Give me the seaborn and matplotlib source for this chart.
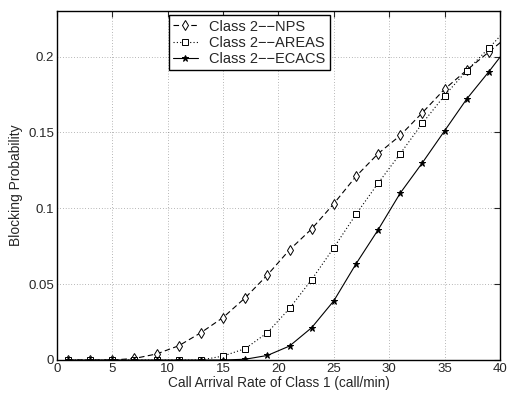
import numpy as np
import pandas as pd
import seaborn as sns
import matplotlib
matplotlib.use('Agg')
import matplotlib.pyplot as plt

# call arrival rate of class 1 (call/min); last point lies past the axis edge
rate = [1, 3, 5, 7, 9, 11, 13, 15, 17, 19, 21, 23, 25, 27, 29, 31, 33, 35, 37, 39, 41]
nps = [0, 0, 0, 0.001, 0.004, 0.0094, 0.018, 0.028, 0.041, 0.056, 0.0726, 0.0864,
       0.103, 0.121, 0.136, 0.148, 0.163, 0.1785, 0.191, 0.203, 0.215]
areas = [0, 0, 0, 0, 0, 0, 0, 0.0026, 0.0075, 0.018, 0.034, 0.053,
         0.074, 0.096, 0.1165, 0.136, 0.156, 0.1743, 0.1906, 0.2056, 0.221]
ecacs = [0, 0, 0, 0, 0, 0, 0, 0, 0.0005, 0.003, 0.0092, 0.0213,
         0.039, 0.0633, 0.0858, 0.110, 0.130, 0.151, 0.172, 0.190, 0.209]
labels = ['Class 2\u2212\u2212NPS', 'Class 2\u2212\u2212AREAS', 'Class 2\u2212\u2212ECACS']

sns.set_style('white')
plt.rcParams['font.family'] = ['Liberation Sans', 'DejaVu Sans']
plt.rcParams['xtick.direction'] = 'in'
plt.rcParams['ytick.direction'] = 'in'

fig = plt.figure(figsize=(5.07, 3.94), dpi=100)
ax = fig.add_axes([0.1124, 0.0863, 0.8736, 0.8857])

styles = [
    dict(marker='d', linestyle=(0, (5, 3)), markersize=5, markerfacecolor='white'),
    dict(marker='s', linestyle=(0, (1, 2)), markersize=4, markerfacecolor='white'),
    dict(marker='*', linestyle='-', markersize=5, markerfacecolor='black'),
]
for vals, lab, st in zip([nps, areas, ecacs], labels, styles):
    df = pd.DataFrame({'rate': rate, 'p': vals})
    sns.lineplot(data=df, x='rate', y='p', ax=ax, color='black', linewidth=0.8,
                 markeredgecolor='black', markeredgewidth=0.7, label=lab, **st)

ax.set_xlim(0, 40)
ax.set_ylim(0, 0.23)
ax.set_xticks(np.arange(0, 41, 5))
ax.set_yticks([0, 0.05, 0.1, 0.15, 0.2])
ax.set_yticklabels(['0', '0.05', '0.1', '0.15', '0.2'])
ax.grid(True, color='black', linestyle=(0, (1, 3)), linewidth=0.5, alpha=0.55)
ax.tick_params(labelsize=9.5, top=True, right=True, length=4, width=0.8, pad=2)
for s in ax.spines.values():
    s.set_linewidth(1.0)
    s.set_color('black')
ax.set_xlabel('Call Arrival Rate of Class 1 (call/min)', fontsize=9.8, labelpad=1)
ax.set_ylabel('Blocking Probability', fontsize=10, labelpad=4)

leg = ax.legend(loc='upper left', bbox_to_anchor=(0.252, 0.988), fontsize=10.5,
                frameon=True, fancybox=False, edgecolor='black', framealpha=1,
                handlelength=1.7, borderpad=0.3, labelspacing=0.15, handletextpad=0.8,
                borderaxespad=0)
leg.get_frame().set_linewidth(1.0)

fig.savefig('out.png', dpi=100)
